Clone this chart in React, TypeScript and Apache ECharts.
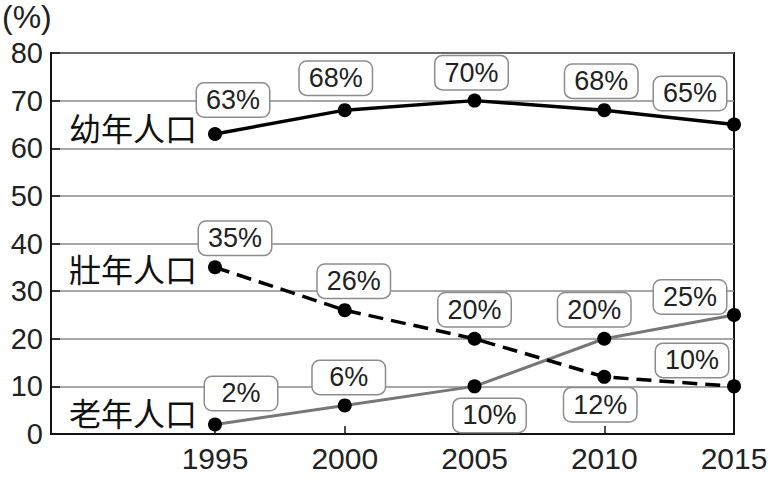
import React, { useEffect, useRef } from "react";
import * as echarts from "echarts";

const years = [1995, 2000, 2005, 2010, 2015];
const youth = [63, 68, 70, 68, 65];
const prime = [35, 26, 20, 12, 10];
const elder = [2, 6, 10, 20, 25];
const seriesNames = ["幼年人口", "壯年人口", "老年人口"];
const yTicks = [0, 10, 20, 30, 40, 50, 60, 70, 80];

// label box offsets (layout only)
const youthOffsets = [[18, -34], [-9, -32], [-3, -28], [-3, -29], [-44, -31]];
const primeOffsets = [[20, -29], [9, -29], [0, -29], [-4, 28], [-42, -26]];
const elderOffsets = [[26, -31], [4, -28], [15, 29], [-10, -29], [-44, -18]];

const FONT = "Liberation Sans";
const CJK = "Noto Sans CJK TC";

const labelBox = {
  show: true,
  position: "inside",
  color: "#222",
  fontFamily: FONT,
  fontSize: 27,
  lineHeight: 29,
  width: 62,
  align: "center",
  verticalAlign: "middle",
  backgroundColor: "#fff",
  borderColor: "#8c8c8c",
  borderWidth: 1.5,
  borderRadius: 7,
  padding: [2, 5],
};

function build(values: number[], offsets: number[][]) {
  return values.map((v, i) => ({
    value: [years[i], v],
    label: { ...labelBox, offset: offsets[i], formatter: v + "%" },
  }));
}

export default function App() {
  const ref = useRef<HTMLDivElement>(null);
  useEffect(() => {
    document.body.style.margin = "0";
    const chart = echarts.init(ref.current!, null, { renderer: "svg" });
    chart.setOption({
      animation: false,
      backgroundColor: "#fff",
      grid: {
        left: 51,
        right: 41,
        top: 53,
        bottom: 49,
        show: true,
        borderColor: "#111",
        borderWidth: 2,
      },
      xAxis: {
        type: "value",
        min: 1988.68,
        max: 2015,
        splitLine: { show: false },
        axisLine: { show: true, lineStyle: { color: "#111", width: 2 } },
        axisTick: {
          show: true,
          inside: true,
          length: 8,
          customValues: years,
          lineStyle: { color: "#111", width: 1.5 },
        },
        axisLabel: {
          customValues: years,
          color: "#222",
          fontFamily: FONT,
          fontSize: 30,
          margin: 9,
          formatter: (v: number) => String(v),
        },
      },
      yAxis: {
        type: "value",
        min: 0,
        max: 80,
        interval: 10,
        axisLine: { show: true, lineStyle: { color: "#111", width: 2 } },
        axisTick: { show: true, inside: true, length: 9, lineStyle: { color: "#111", width: 1.5 } },
        splitLine: { show: true, lineStyle: { color: "#8a8a8a", width: 1.5 } },
        axisLabel: {
          color: "#222",
          fontFamily: FONT,
          fontSize: 29,
          margin: 8,
          customValues: yTicks,
        },
      },
      graphic: [
        {
          type: "text",
          left: 2,
          top: 1,
          style: { text: "(%)", fill: "#222", fontSize: 32, fontFamily: FONT },
        },
        {
          type: "text",
          x: 69,
          y: 127,
          style: { text: seriesNames[0], fill: "#111", fontSize: 32, fontFamily: CJK, verticalAlign: "middle" },
        },
        {
          type: "text",
          x: 69,
          y: 268,
          style: { text: seriesNames[1], fill: "#111", fontSize: 32, fontFamily: CJK, verticalAlign: "middle" },
        },
        {
          type: "text",
          x: 69,
          y: 412,
          style: { text: seriesNames[2], fill: "#111", fontSize: 32, fontFamily: CJK, verticalAlign: "middle" },
        },
      ],
      series: [
        {
          name: seriesNames[0],
          type: "line",
          data: build(youth, youthOffsets),
          symbol: "circle",
          symbolSize: 14,
          itemStyle: { color: "#000" },
          lineStyle: { color: "#000", width: 3.5 },
          z: 3,
        },
        {
          name: seriesNames[1],
          type: "line",
          data: build(prime, primeOffsets),
          symbol: "circle",
          symbolSize: 14,
          itemStyle: { color: "#000" },
          lineStyle: { color: "#000", width: 3.5, type: [15, 8] },
          z: 3,
        },
        {
          name: seriesNames[2],
          type: "line",
          data: build(elder, elderOffsets),
          symbol: "circle",
          symbolSize: 14,
          itemStyle: { color: "#000" },
          lineStyle: { color: "#777", width: 3 },
          z: 2,
        },
      ],
    });
    return () => chart.dispose();
  }, []);
  return <div ref={ref} style={{ width: 775, height: 483 }} />;
}
